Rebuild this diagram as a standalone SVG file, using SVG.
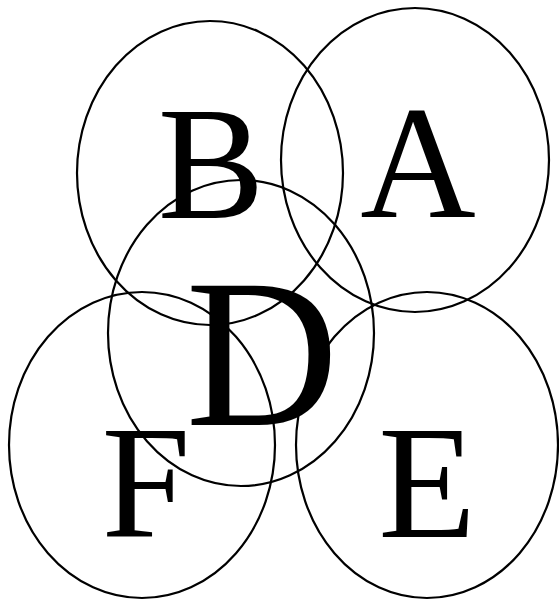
<svg xmlns="http://www.w3.org/2000/svg" width="559" height="601" viewBox="0 0 559 601">
<style>
.c{fill:none;stroke:#000;stroke-width:2.2}
.t{fill:#000;text-anchor:middle;font-family:'Liberation Serif','Times New Roman',serif}
</style>
<rect width="559" height="601" fill="#fff"/>
<g id="B"><ellipse class="c" cx="210" cy="173" rx="133" ry="152"/><text class="t" x="211" y="218" font-size="160">B</text></g>
<g id="A"><ellipse class="c" cx="415" cy="160" rx="134" ry="152"/><text class="t" x="418" y="217" font-size="160">A</text></g>
<g id="D"><ellipse class="c" cx="241" cy="333" rx="133" ry="153"/><text class="t" x="262" y="425" font-size="212">D</text></g>
<g id="F"><ellipse class="c" cx="142" cy="445" rx="133" ry="153"/><text class="t" x="146" y="537" font-size="160">F</text></g>
<g id="E"><ellipse class="c" cx="427" cy="445" rx="131" ry="153"/><text class="t" x="427" y="537" font-size="160">E</text></g>
<g id="connectors"></g>
</svg>
